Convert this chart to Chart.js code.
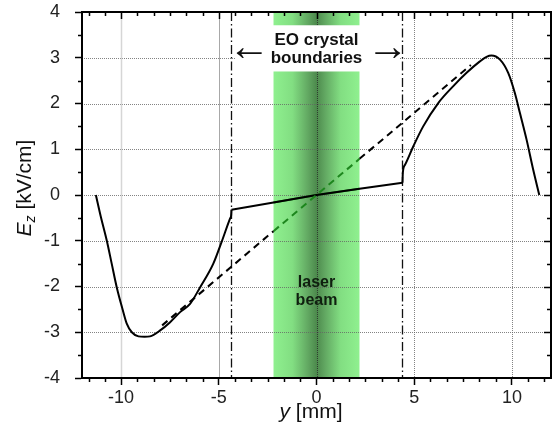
<!DOCTYPE html>
<html><head><meta charset="utf-8">
<script src="https://cdn.jsdelivr.net/npm/chart.js@4.4.1/dist/chart.umd.min.js"></script>
<style>html,body{margin:0;padding:0;background:#fff;}canvas{display:block;}</style>
</head><body>
<canvas id="c" width="555" height="428"></canvas>
<script>
// ---- data ----
const xTicks = [-10, -5, 0, 5, 10];
const yTicks = [-4, -3, -2, -1, 0, 1, 2, 3, 4];
const xMinorStep = 5 / 6;
const yMinorStep = 0.5;

// measured field, outside the crystal (left side)
const leftCurveX = [-11.29, -11.04, -10.73, -10.48, -10.22, -9.91, -9.71, -9.45, -9.11, -8.8, -8.52, -8.0, -7.49, -6.98, -6.47, -5.96, -5.28, -4.85, -4.42, -4.37, -4.35];
const leftCurveY = [0, -0.47, -1.0, -1.5, -2.02, -2.52, -2.81, -3.0, -3.09, -3.1, -3.09, -2.96, -2.78, -2.56, -2.38, -2.02, -1.5, -1.02, -0.51, -0.45, -0.32];
// field inside the crystal
const innerX = [-4.35, -2.2, 0, 2.2, 4.4];
const innerY = [-0.32, -0.165, 0, 0.135, 0.27];
// measured field, right side
const rightCurveX = [4.4, 4.42, 4.53, 4.95, 5.46, 6.23, 7.0, 7.68, 8.36, 8.7, 8.95, 9.39, 9.81, 10.15, 10.41, 10.75, 11.09, 11.4];
const rightCurveY = [0.27, 0.5, 0.66, 1.06, 1.5, 2.01, 2.38, 2.67, 2.92, 3.02, 3.05, 2.96, 2.67, 2.23, 1.79, 1.21, 0.55, 0];
// field without crystal (dashed)
const idealX = [-7.9, -2.2, 2.2, 7.9];
const idealY = [-2.85, -0.79, 0.79, 2.84];

const beamHalfWidth = 2.2;
const crystalEdges = [-4.35, 4.4];

// ---- helpers ----
const zip = (xs, ys) => xs.map((v, i) => ({x: v, y: ys[i]}));
const P = (s, v) => s.getPixelForValue(v);
const FONT = '"Liberation Sans", Arial, Helvetica, sans-serif';
const BLACK = '#000';
const GREEN = '#1d861d';

const innerPts = zip(innerX, innerY);
const greenInner = innerPts.filter(p => Math.abs(p.x) <= beamHalfWidth + 1e-9);
const idealPts = zip(idealX, idealY);

const lineDs = (data, color, opts) => Object.assign({
  data, borderColor: color, borderWidth: 2, pointRadius: 0, fill: false, tension: 0
}, opts || {});

const datasets = [
  lineDs(idealPts.slice(0, 2), BLACK, {borderDash: [7, 5]}),
  lineDs(idealPts.slice(1, 3), GREEN, {borderDash: [7, 5]}),
  lineDs(idealPts.slice(2, 4), BLACK, {borderDash: [7, 5]}),
  lineDs(zip(leftCurveX, leftCurveY), BLACK, {cubicInterpolationMode: 'monotone'}),
  lineDs(innerPts, BLACK),
  lineDs(greenInner, GREEN),
  lineDs(zip(rightCurveX, rightCurveY), BLACK, {cubicInterpolationMode: 'monotone'})
];

const decor = {
  id: 'decor',
  beforeDatasetsDraw(chart) {
    const {ctx, chartArea: a, scales: {x, y}} = chart;
    ctx.save();
    // laser beam band
    const bl = P(x, -beamHalfWidth), br = P(x, beamHalfWidth);
    const g = ctx.createLinearGradient(bl, 0, br, 0);
    g.addColorStop(0, '#8ff08f');
    g.addColorStop(0.22, '#82de82');
    g.addColorStop(0.40, '#62a862');
    g.addColorStop(0.5, '#4d8a4d');
    g.addColorStop(0.60, '#62a862');
    g.addColorStop(0.78, '#82de82');
    g.addColorStop(1, '#8ff08f');
    ctx.fillStyle = g;
    ctx.fillRect(bl, a.top, br - bl, a.bottom - a.top);

    // horizontal grid (dotted)
    ctx.lineWidth = 1;
    ctx.setLineDash([1, 1]);
    ctx.strokeStyle = 'rgba(100,100,100,0.8)';
    yTicks.slice(1, -1).forEach(v => {
      const py = Math.round(P(y, v)) + 0.5;
      ctx.beginPath(); ctx.moveTo(a.left, py); ctx.lineTo(a.right, py); ctx.stroke();
    });
    // vertical grid
    const vStyles = {
      '-10': {c: '#d6d6d6', d: [], w: 1.5},
      '-5': {c: '#a8a8a8', d: [], w: 1},
      '0': {c: 'rgba(40,40,40,0.8)', d: [1, 1], w: 1},
      '5': {c: 'rgba(100,100,100,0.8)', d: [1, 1], w: 1},
      '10': {c: 'rgba(100,100,100,0.8)', d: [1, 1], w: 1}
    };
    xTicks.forEach(v => {
      const s = vStyles[String(v)];
      const px = Math.round(P(x, v)) + 0.5;
      ctx.strokeStyle = s.c; ctx.lineWidth = s.w; ctx.setLineDash(s.d);
      ctx.beginPath(); ctx.moveTo(px, a.top); ctx.lineTo(px, a.bottom); ctx.stroke();
    });

    // white label box
    ctx.setLineDash([]);
    ctx.fillStyle = '#fff';
    const bx0 = P(x, -4.12), bx1 = P(x, 4.27), by0 = P(y, 3.71), by1 = P(y, 2.70);
    ctx.fillRect(bx0, by0, bx1 - bx0, by1 - by0);

    // crystal boundaries (dash-dot)
    ctx.strokeStyle = '#111';
    ctx.lineWidth = 1.3;
    ctx.setLineDash([9, 3, 1.5, 3]);
    crystalEdges.forEach(v => {
      const px = Math.round(P(x, v)) + 0.5;
      ctx.beginPath(); ctx.moveTo(px, a.top); ctx.lineTo(px, a.bottom); ctx.stroke();
    });
    ctx.setLineDash([]);

    // labels
    ctx.fillStyle = '#111';
    ctx.textAlign = 'center';
    ctx.textBaseline = 'middle';
    ctx.font = 'bold 17px ' + FONT;
    ctx.fillText('EO crystal', P(x, 0), P(y, 3.38));
    ctx.fillText('boundaries', P(x, 0), P(y, 2.98));
    ctx.font = 'bold 16px ' + FONT;
    ctx.fillStyle = '#0f1f0f';
    ctx.fillText('laser', P(x, 0), P(y, -1.91));
    ctx.fillText('beam', P(x, 0), P(y, -2.30));
    ctx.fillStyle = '#111';
    ctx.font = '42px "Liberation Serif", serif';
    ctx.fillText('\u2190', P(x, -3.45), P(y, 3.2));
    ctx.fillText('\u2192', P(x, 3.63), P(y, 3.2));
    ctx.restore();
  },
  afterDatasetsDraw(chart) {
    const {ctx, chartArea: a, scales: {x, y}} = chart;
    ctx.save();
    ctx.strokeStyle = '#000';
    ctx.lineWidth = 2;
    ctx.strokeRect(a.left, a.top, a.right - a.left, a.bottom - a.top);
    ctx.lineWidth = 1.5;
    const xmin = x.min, xmax = x.max, ymin = y.min, ymax = y.max;
    for (let k = Math.ceil(xmin / xMinorStep); k * xMinorStep <= xmax + 1e-9; k++) {
      const v = k * xMinorStep;
      const isMajor = xTicks.some(t => Math.abs(t - v) < 1e-6);
      const px = Math.round(P(x, v)) + 0.5;
      if (px <= a.left + 1 || px >= a.right - 1) continue;
      ctx.beginPath();
      if (!isMajor) { ctx.moveTo(px, a.bottom); ctx.lineTo(px, a.bottom + 4); }
      ctx.moveTo(px, a.top); ctx.lineTo(px, a.top + (isMajor ? 7 : 4));
      ctx.stroke();
    }
    for (let k = Math.ceil(ymin / yMinorStep); k * yMinorStep <= ymax + 1e-9; k++) {
      const v = k * yMinorStep;
      const isMajor = yTicks.some(t => Math.abs(t - v) < 1e-6);
      const py = Math.round(P(y, v)) + 0.5;
      if (py <= a.top + 1 || py >= a.bottom - 1) continue;
      ctx.beginPath();
      if (!isMajor) { ctx.moveTo(a.left, py); ctx.lineTo(a.left - 4, py); }
      ctx.moveTo(a.right, py); ctx.lineTo(a.right - (isMajor ? 7 : 4), py);
      ctx.stroke();
    }
    ctx.restore();
  },
  afterDraw(chart) {
    const {ctx} = chart;
    ctx.save();
    ctx.fillStyle = '#111';
    ctx.textBaseline = 'alphabetic';
    ctx.textAlign = 'left';
    const fMain = '21px ' + FONT, fIt = 'italic 21px ' + FONT;
    ctx.font = fIt; const w1 = ctx.measureText('y').width;
    ctx.font = fMain; const w2 = ctx.measureText(' [mm]').width;
    let sx = 311 - (w1 + w2) / 2;
    ctx.font = fIt; ctx.fillText('y', sx, 418);
    ctx.font = fMain; ctx.fillText(' [mm]', sx + w1, 418);
    const fSub = 'italic 14px ' + FONT;
    ctx.font = fIt; const e1 = ctx.measureText('E').width;
    ctx.font = fSub; const e2 = ctx.measureText('z').width;
    ctx.font = fMain; const e3 = ctx.measureText(' [kV/cm]').width;
    const W = e1 + e2 + e3;
    ctx.translate(23, 188);
    ctx.rotate(-Math.PI / 2);
    let u = -W / 2;
    ctx.font = fIt; ctx.fillText('E', u, 8); u += e1;
    ctx.font = fSub; ctx.fillText('z', u, 12); u += e2;
    ctx.font = fMain; ctx.fillText(' [kV/cm]', u, 8);
    ctx.restore();
  }
};

new Chart(document.getElementById('c'), {
  type: 'line',
  data: {datasets},
  plugins: [decor],
  options: {
    responsive: false,
    animation: false,
    layout: {padding: {top: 12, right: 4, left: 0, bottom: 0}},
    plugins: {legend: {display: false}, tooltip: {enabled: false}},
    scales: {
      x: {
        type: 'linear', min: -12, max: 12,
        afterBuildTicks: s => { s.ticks = xTicks.map(v => ({value: v})); },
        afterFit: s => { s.height = 50; s.paddingLeft = 0; s.paddingRight = 0; },
        ticks: {font: {family: FONT, size: 18}, color: '#222', padding: 2, maxRotation: 0, autoSkip: false, callback: v => String(v)},
        grid: {display: true, drawOnChartArea: false, drawTicks: true, tickLength: 7, tickColor: '#000', tickWidth: 1.5},
        border: {display: true, color: '#000', width: 2}
      },
      y: {
        type: 'linear', min: -4, max: 4,
        afterBuildTicks: s => { s.ticks = yTicks.map(v => ({value: v})); },
        afterFit: s => { s.width = 82; s.paddingTop = 0; s.paddingBottom = 0; },
        ticks: {font: {family: FONT, size: 18}, color: '#222', padding: 15, autoSkip: false, callback: v => String(v)},
        grid: {display: true, drawOnChartArea: false, drawTicks: true, tickLength: 7, tickColor: '#000', tickWidth: 1.5},
        border: {display: true, color: '#000', width: 2}
      }
    }
  }
});
</script>
</body></html>
